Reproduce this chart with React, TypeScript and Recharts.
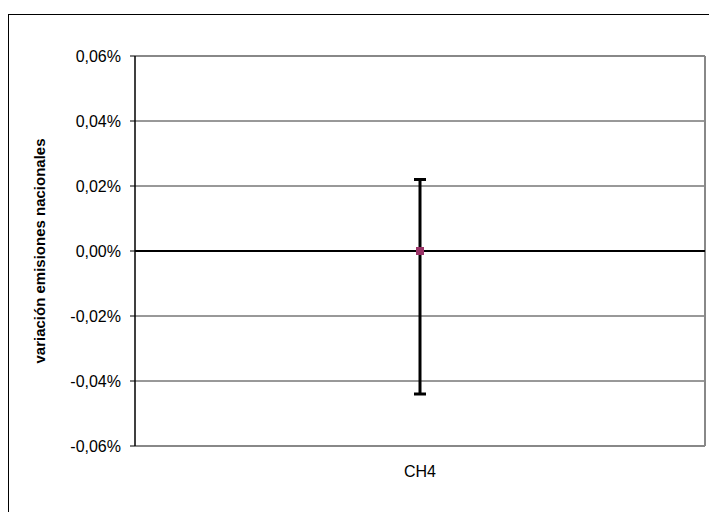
import React from 'react'
import {
  ComposedChart,
  Scatter,
  ErrorBar,
  XAxis,
  YAxis,
  CartesianGrid,
  ReferenceLine,
} from 'recharts'

// values in percent
const CATEGORIES = ['CH4']
const VALUES = [0]
const ERR_LOW = [0.044]
const ERR_HIGH = [0.022]
const Y_TICKS = [-0.06, -0.04, -0.02, 0, 0.02, 0.04, 0.06]

const data = CATEGORIES.map((name, i) => ({
  name,
  value: VALUES[i],
  err: [ERR_LOW[i], ERR_HIGH[i]],
}))

const FONT = '"Liberation Sans", Arial, sans-serif'

const fmtPct = (v: number) => `${v.toFixed(2).replace('.', ',')}%`

const SquareDot = (props: any) => {
  const { cx, cy } = props
  return <rect x={cx - 4} y={cy - 4} width={8} height={8} fill="#993366" />
}

export default function App() {
  return (
    <div style={{ position: 'relative', width: 709, height: 504, fontFamily: FONT }}>
      <div
        style={{
          position: 'absolute',
          left: 0,
          top: 6,
          width: 720,
          height: 520,
          border: '1.5px solid #000',
          boxSizing: 'border-box',
        }}
      />
      <div style={{ position: 'absolute', left: 0, top: 0 }}>
        <ComposedChart
          width={709}
          height={504}
          data={data}
          margin={{ top: 48, right: 12, bottom: 0, left: 0 }}
        >
          <CartesianGrid vertical={false} stroke="#333" strokeWidth={1} />
          <XAxis
            dataKey="name"
            type="category"
            height={66}
            axisLine={{ stroke: '#888', strokeWidth: 2 }}
            tickLine={false}
            tickSize={0}
            tickMargin={20}
            tick={{ fill: '#000', fontSize: 16, fontFamily: FONT }}
          />
          {/* hidden axis used only for the plot frame */}
          <XAxis
            xAxisId="frame"
            type="number"
            dataKey="frame"
            domain={[0, 1]}
            allowDataOverflow
            hide
          />
          <YAxis
            width={127}
            domain={[-0.06, 0.06]}
            ticks={Y_TICKS}
            interval={0}
            tickFormatter={fmtPct}
            axisLine={{ stroke: '#000', strokeWidth: 1.5 }}
            tickLine={{ stroke: '#000' }}
            tickSize={5}
            tickMargin={9}
            tick={{ fill: '#000', fontSize: 16, fontFamily: FONT }}
            label={{
              value: 'variación emisiones nacionales',
              angle: -90,
              position: 'center',
              dx: -32,
              style: { fontSize: 15, fontWeight: 'bold', fill: '#000', fontFamily: FONT },
            }}
          />
          <ReferenceLine xAxisId="frame" x={1} stroke="#888" strokeWidth={2} />
          <ReferenceLine y={0.06} stroke="#888" strokeWidth={2} />
          <ReferenceLine y={0} stroke="#000" strokeWidth={2} />
          <Scatter dataKey="value" shape={SquareDot} isAnimationActive={false}>
            <ErrorBar
              dataKey="err"
              direction="y"
              width={6}
              stroke="#000"
              strokeWidth={3}
              isAnimationActive={false}
            />
          </Scatter>
        </ComposedChart>
      </div>
    </div>
  )
}
